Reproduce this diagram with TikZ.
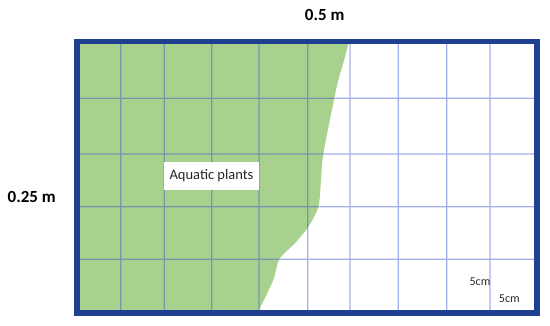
\documentclass[tikz,border=0pt]{standalone}
\usepackage{fontspec}
\setmainfont{Carlito}
\definecolor{frameblue}{RGB}{31,64,145}
\definecolor{gridblue}{RGB}{70,95,205}
\definecolor{plantgreen}{RGB}{169,209,142}
\definecolor{textgray}{RGB}{40,40,40}
\tikzset{
  gridline/.style={draw=gridblue, line width=1.3pt},
  framerect/.style={draw=frameblue, line width=5.5pt},
  dimlabel/.style={inner sep=0pt, font=\fontsize{17}{20}\selectfont\bfseries, text=black},
  labelbox/.style={fill=white, inner sep=0pt, minimum width=95pt, minimum height=28.5pt, font=\fontsize{14.5}{16}\selectfont, text=black!85},
  cellnote/.style={inner sep=0pt, font=\fontsize{12}{14}\selectfont, text=textgray}
}
\begin{document}
\begin{tikzpicture}[x=1pt,y=-1pt]
\useasboundingbox (0,0) rectangle (550,325);
% aquatic plants area
\fill[plantgreen] (78.5,44) -- (348.3,44) -- plot[smooth,tension=0.55] coordinates {(348.3,44) (343.3,63) (338.3,80) (334.3,98.3) (323.3,154) (321,180) (318.3,206.7) (308.3,226.7) (295,243) (279.3,259.3) (273.3,280) (259,310)} -- (78.5,310) -- cycle;
% grid
\begin{scope}[transparency group, opacity=0.5]
\foreach \x in {120.7,164.3,211.7,259,307.7,350,398.3,446.7,490}
  \draw[gridline] (\x,44) -- (\x,310);
\foreach \y in {98.3,154,206.7,259.3}
  \draw[gridline] (78.5,\y) -- (534.5,\y);
\end{scope}
% frame
\draw[framerect] (76.75,41.25) rectangle (536.75,312.75);
% labels
\node[dimlabel] (width) at (324.7,15) {0.5 m};
\node[dimlabel] (height) at (31.7,197.3) {0.25 m};
\node[labelbox] (plants) at (211.5,176) {Aquatic plants};
\node[cellnote] (cellw) at (480,282) {5cm};
\node[cellnote] (cellh) at (509.3,298.3) {5cm};
\end{tikzpicture}
\end{document}
